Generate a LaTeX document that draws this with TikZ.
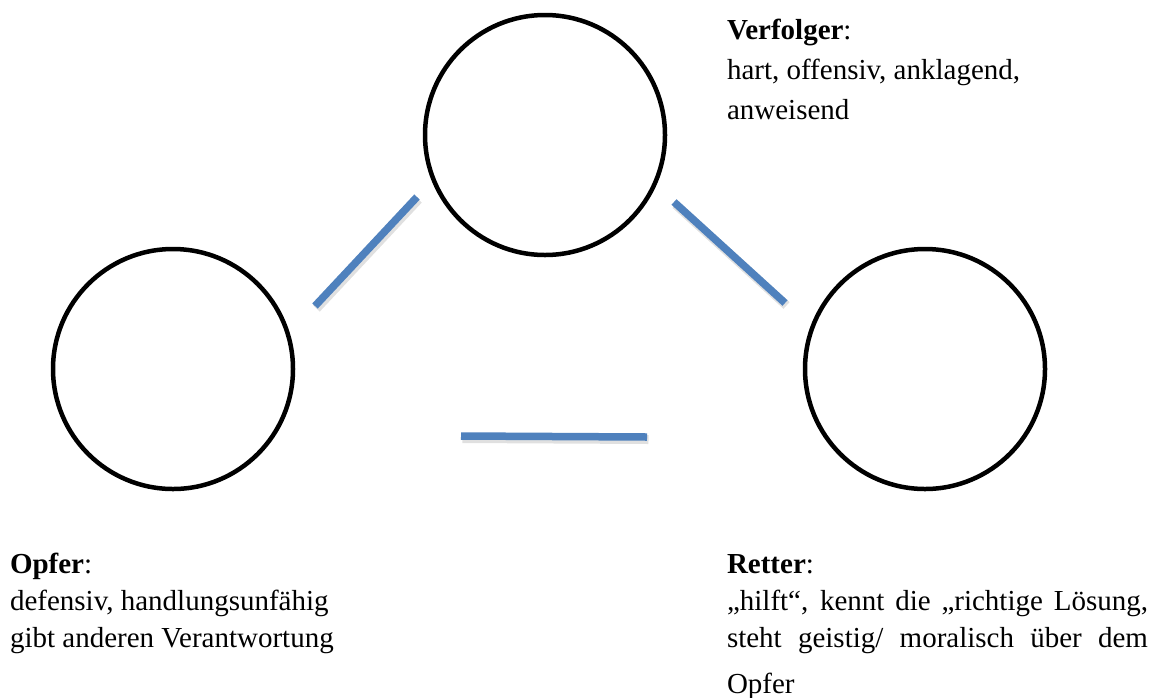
\documentclass[tikz,border=0pt]{standalone}
\usepackage{fontspec}
\setmainfont{Liberation Serif}
\definecolor{linkblue}{RGB}{79,129,189}
\tikzset{
  role/.style={circle, draw=black, line width=4.5pt, minimum size=240pt,
    inner sep=0pt, outer sep=0pt},
  link/.style={draw=linkblue, line width=7.5pt},
  linkshadow/.style={draw=black, opacity=0.12, line width=9pt},
  desc/.style={anchor=base west, inner sep=0pt, outer sep=0pt,
    font=\fontsize{29pt}{37pt}\selectfont}
}
\begin{document}
\begin{tikzpicture}[x=1pt, y=-1pt]
  \useasboundingbox (0,0) rectangle (1156,697);
  \fill[white] (0,0) rectangle (1156,697);

  % the three roles of the drama triangle
  \node[role] (verfolger) at (545,135) {};
  \node[role] (opfer)     at (173,369) {};
  \node[role] (retter)    at (925,369) {};

  % free-standing sides of the triangle
  \coordinate (vo1) at (315,306);
  \coordinate (vo2) at (417,197);
  \coordinate (vr1) at (674,202);
  \coordinate (vr2) at (785,303);
  \coordinate (or1) at (461,436);
  \coordinate (or2) at (647,437);

  \foreach \a/\b in {vo1/vo2, vr1/vr2, or1/or2} {
    \draw[linkshadow] ([shift={(1.5,2.5)}]\a) -- ([shift={(1.5,2.5)}]\b);
    \draw[link] (\a) -- (\b);
  }

  % role descriptions
  \node[desc] (verfolgertext) at (727,39) {%
    \parbox[t]{400pt}{\raggedright\fontsize{29pt}{40pt}\selectfont
      \textbf{Verfolger}:\\
      hart, offensiv, anklagend,\\
      anweisend}};

  \node[desc] (opfertext) at (10,573) {%
    \parbox[t]{400pt}{\raggedright\fontsize{29pt}{37pt}\selectfont
      \textbf{Opfer}:\\
      defensiv, handlungsunfähig\\
      gibt anderen Verantwortung}};

  \node[desc] (rettertext) at (727,573) {%
    \parbox[t]{421pt}{\fontsize{29pt}{37pt}\selectfont
      \textbf{Retter}:\\
      \makebox[421pt][s]{„hilft“, kennt die „richtige Lösung,}\\
      \makebox[421pt][s]{steht geistig/ moralisch über dem}\\[9pt]
      Opfer}};
\end{tikzpicture}
\end{document}
